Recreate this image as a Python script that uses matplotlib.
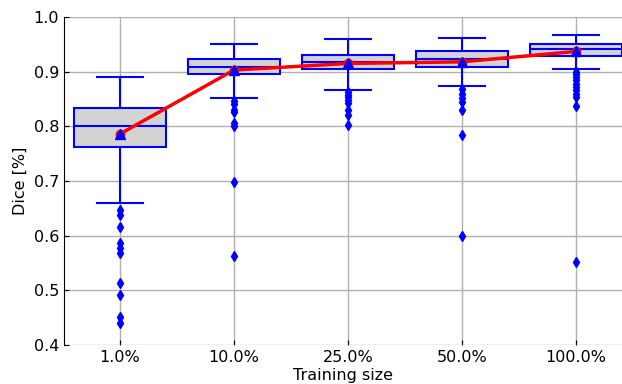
import matplotlib
matplotlib.use("Agg")
import matplotlib.pyplot as plt

labels = ["1.0%", "10.0%", "25.0%", "50.0%", "100.0%"]
q1 = [0.763, 0.895, 0.904, 0.909, 0.929]
med = [0.801, 0.909, 0.918, 0.923, 0.941]
q3 = [0.834, 0.923, 0.930, 0.937, 0.951]
whislo = [0.659, 0.852, 0.866, 0.874, 0.904]
whishi = [0.890, 0.951, 0.959, 0.961, 0.967]
means = [0.786, 0.903, 0.915, 0.918, 0.937]
fliers = [
    [0.647, 0.638, 0.615, 0.586, 0.577, 0.568, 0.514, 0.491, 0.452, 0.440],
    [0.846, 0.840, 0.830, 0.827, 0.806, 0.801, 0.699, 0.563],
    [0.863, 0.858, 0.853, 0.848, 0.843, 0.830, 0.821, 0.803],
    [0.868, 0.860, 0.851, 0.845, 0.830, 0.785, 0.599],
    [0.900, 0.895, 0.890, 0.885, 0.878, 0.872, 0.866, 0.860, 0.854, 0.838, 0.551],
]

stats = []
for i in range(len(labels)):
    stats.append(dict(q1=q1[i], med=med[i], q3=q3[i], whislo=whislo[i],
                      whishi=whishi[i], mean=means[i], fliers=fliers[i],
                      label=labels[i]))

fig = plt.figure(figsize=(6.22, 3.84), dpi=100)
ax = fig.add_axes([64 / 622, 39 / 384, 558 / 622, 328 / 384])

pos = list(range(1, len(labels) + 1))
ax.plot(pos, means, "o-", color="red", linewidth=2.5, markersize=6, zorder=3)
ax.bxp(stats, positions=pos, widths=0.8, showmeans=True, patch_artist=True,
       boxprops=dict(facecolor="lightgray", edgecolor="blue", linewidth=1.5),
       whiskerprops=dict(color="blue", linewidth=1.5),
       capprops=dict(color="blue", linewidth=1.5),
       medianprops=dict(color="blue", linewidth=1.5),
       meanprops=dict(marker="^", markerfacecolor="blue", markeredgecolor="blue",
                      markersize=7, zorder=4),
       flierprops=dict(marker="d", markerfacecolor="blue", markeredgecolor="blue", markersize=5),
       zorder=2)

ax.set_xlim(0.509, 5.404)
ax.set_ylim(0.4, 1.0)
ax.set_yticks([0.4, 0.5, 0.6, 0.7, 0.8, 0.9, 1.0])
ax.set_xticks(pos)
ax.set_xticklabels(labels)
ax.grid(True, color="#b0b0b0", linewidth=1, zorder=0)
ax.set_axisbelow(True)
for s in ["top", "right", "bottom"]:
    ax.spines[s].set_visible(False)
ax.tick_params(direction="in", labelsize=11.5)
ax.set_xlabel("Training size", fontsize=11.5, labelpad=2)
ax.set_ylabel("Dice [%]", fontsize=11.5)

fig.savefig("out.png", dpi=100)
